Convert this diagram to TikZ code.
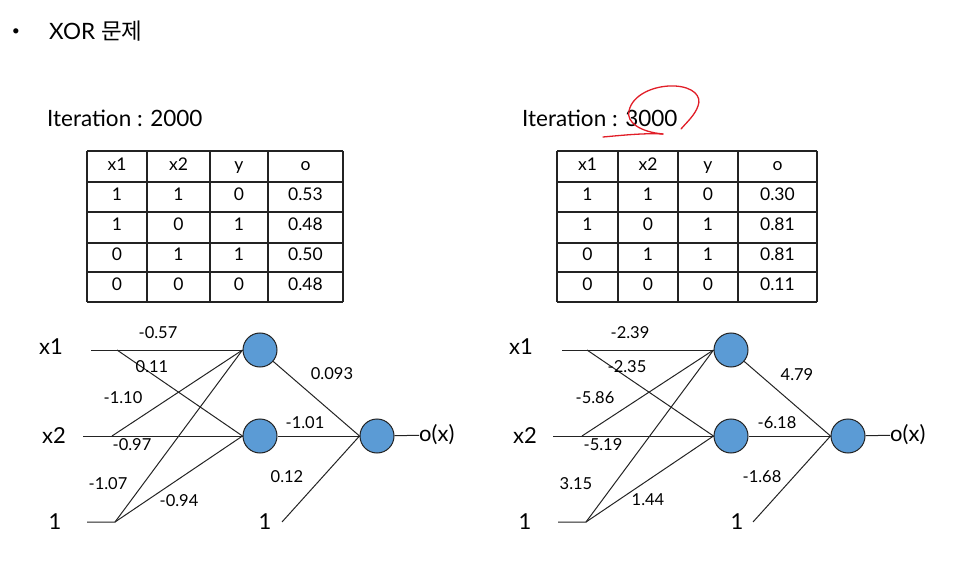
\documentclass[tikz,border=0pt]{standalone}
\usepackage{fontspec}
\setmainfont{Lato}
\newfontfamily\cjk{Noto Sans CJK KR}
\usetikzlibrary{positioning}
\definecolor{nodeblue}{RGB}{91,155,213}
\definecolor{inkgray}{RGB}{35,35,35}
\definecolor{penred}{RGB}{225,30,40}

\begin{document}
\begin{tikzpicture}[
        x=1pt, y=-1pt,
        neuron/.style={circle, draw=inkgray, line width=1pt, fill=nodeblue, minimum size=34pt, inner sep=0pt},
        wire/.style={draw=inkgray, line width=1pt},
        inlbl/.style={font=\fontsize{22}{24}\selectfont, inner sep=0pt},
        wlbl/.style={font=\fontsize{16.5}{19}\selectfont, inner sep=0pt},
        head/.style={font=\fontsize{22.5}{26}\selectfont, anchor=west, inner sep=0pt},
        rule/.style={draw=inkgray, line width=1.3pt},
        cell/.style={font=\fontsize{17.5}{20}\selectfont, text height=12pt, text depth=3pt, inner sep=0pt}
    ]
    \useasboundingbox (0,0) rectangle (961,577);

    % --- Title ---
    \node[font=\fontsize{14}{16}\selectfont] (bullet) at (16,32) {•};
    \node[head] (title) at (49,31) {XOR {\cjk 문제}};

    % --- Headings ---
    \node[head] (it-l) at (47,118) {Iteration : 2000};
    \node[head] (it-r) at (522,118) {Iteration : 3000};

    % --- Tables ---
    \foreach \x in {87,147,210,268,343} \draw[rule] (\x,151) -- (\x,302);
    \foreach \x in {557,618,678,738,817} \draw[rule] (\x,151) -- (\x,302);
    \foreach \y in {151,182,212,243,272,302} {
        \draw[rule] (87,\y) -- (343,\y);
        \draw[rule] (557,\y) -- (817,\y);
    }
    \foreach \i/\a/\b/\c/\d in {0/x1/x2/y/o, 1/1/1/0/0.53, 2/1/0/1/0.48, 3/0/1/1/0.50, 4/0/0/0/0.48} {
        \node[cell] (tl-\i-1) at (117,166+30.1*\i) {\a};
        \node[cell] (tl-\i-2) at (178.5,166+30.1*\i) {\b};
        \node[cell] (tl-\i-3) at (239,166+30.1*\i) {\c};
        \node[cell] (tl-\i-4) at (305.5,166+30.1*\i) {\d};
    }
    \foreach \i/\a/\b/\c/\d in {0/x1/x2/y/o, 1/1/1/0/0.30, 2/1/0/1/0.81, 3/0/1/1/0.81, 4/0/0/0/0.11} {
        \node[cell] (tr-\i-1) at (587.5,166+30.1*\i) {\a};
        \node[cell] (tr-\i-2) at (648,166+30.1*\i) {\b};
        \node[cell] (tr-\i-3) at (708,166+30.1*\i) {\c};
        \node[cell] (tr-\i-4) at (777.5,166+30.1*\i) {\d};
    }

    % --- Left network ---
    \node[inlbl] (l-x1) at (51,347) {x1};
    \node[inlbl] (l-x2) at (54,436) {x2};
    \node[inlbl] (l-b1) at (55,522) {1};
    \node[neuron] (l-h1) at (260,350) {};
    \node[neuron] (l-h2) at (260,436) {};
    \node[neuron] (l-o) at (377,436) {};
    \node[inlbl, anchor=west] (l-ox) at (419,435) {o(x)};
    \node[inlbl] (l-b2) at (265,522) {1};
    \coordinate (l-x1s) at (91,350);  \coordinate (l-x1b) at (117,350);
    \coordinate (l-x2s) at (83,436);  \coordinate (l-x2b) at (112,436);
    \coordinate (l-b1s) at (87,522);  \coordinate (l-b1b) at (115,522);
    \coordinate (l-b2s) at (282,522);

    \draw[wire] (l-x1s) -- (l-h1.west);
    \draw[wire] (l-x1b) -- (l-h2.west);
    \draw[wire] (l-x2s) -- (l-h2.west);
    \draw[wire] (l-x2b) -- (l-h1.west);
    \draw[wire] (l-b1s) -- (l-b1b) -- (l-h1.west);
    \draw[wire] (l-b1b) -- (l-h2.west);
    \draw[wire] (l-h1) -- (l-o.west);
    \draw[wire] (l-h2) -- (l-o.west);
    \draw[wire] (l-b2s) -- (l-o.west);
    \draw[wire] (l-o) -- (l-ox);

    \node[wlbl] (l-w1) at (158,333) {-0.57};
    \node[wlbl] (l-w2) at (152,367) {0.11};
    \node[wlbl] (l-w3) at (123,398) {-1.10};
    \node[wlbl] (l-w4) at (132,445) {-0.97};
    \node[wlbl] (l-w5) at (108,484) {-1.07};
    \node[wlbl] (l-w6) at (179,501) {-0.94};
    \node[wlbl] (l-w7) at (332,374) {0.093};
    \node[wlbl] (l-w8) at (305,423) {-1.01};
    \node[wlbl] (l-w9) at (287,477) {0.12};

    % --- Right network ---
    \node[inlbl] (r-x1) at (521,347) {x1};
    \node[inlbl] (r-x2) at (525,436) {x2};
    \node[inlbl] (r-b1) at (525,522) {1};
    \node[neuron] (r-h1) at (731,350) {};
    \node[neuron] (r-h2) at (731,436) {};
    \node[neuron] (r-o) at (848,436) {};
    \node[inlbl, anchor=west] (r-ox) at (890,435) {o(x)};
    \node[inlbl] (r-b2) at (737,522) {1};
    \coordinate (r-x1s) at (562,350);  \coordinate (r-x1b) at (587,350);
    \coordinate (r-x2s) at (553,436);  \coordinate (r-x2b) at (582,436);
    \coordinate (r-b1s) at (558,522);  \coordinate (r-b1b) at (586,522);
    \coordinate (r-b2s) at (753,522);

    \draw[wire] (r-x1s) -- (r-h1.west);
    \draw[wire] (r-x1b) -- (r-h2.west);
    \draw[wire] (r-x2s) -- (r-h2.west);
    \draw[wire] (r-x2b) -- (r-h1.west);
    \draw[wire] (r-b1s) -- (r-b1b) -- (r-h1.west);
    \draw[wire] (r-b1b) -- (r-h2.west);
    \draw[wire] (r-h1) -- (r-o.west);
    \draw[wire] (r-h2) -- (r-o.west);
    \draw[wire] (r-b2s) -- (r-o.west);
    \draw[wire] (r-o) -- (r-ox);

    \node[wlbl] (r-w1) at (630,333) {-2.39};
    \node[wlbl] (r-w2) at (627,367) {-2.35};
    \node[wlbl] (r-w3) at (595,398) {-5.86};
    \node[wlbl] (r-w4) at (603,445) {-5.19};
    \node[wlbl] (r-w5) at (576,484) {3.15};
    \node[wlbl] (r-w6) at (648,500) {1.44};
    \node[wlbl] (r-w7) at (797,375) {4.79};
    \node[wlbl] (r-w8) at (777,423) {-6.18};
    \node[wlbl] (r-w9) at (762,477) {-1.68};

    % 손으로 그린 빨간 표시
    \draw[penred, line width=1.3pt, line cap=round] (603,137) .. controls (625,135) and (645,133) .. (663,134);
    \draw[penred, line width=1.3pt, line cap=round] (663,134) .. controls (640,132) and (626,122) .. (629,111)
        .. controls (632,95) and (654,85) .. (675,86) .. controls (693,87) and (702,96) .. (698,106)
        .. controls (695,115) and (687,122) .. (681,129);
\end{tikzpicture}
\end{document}
